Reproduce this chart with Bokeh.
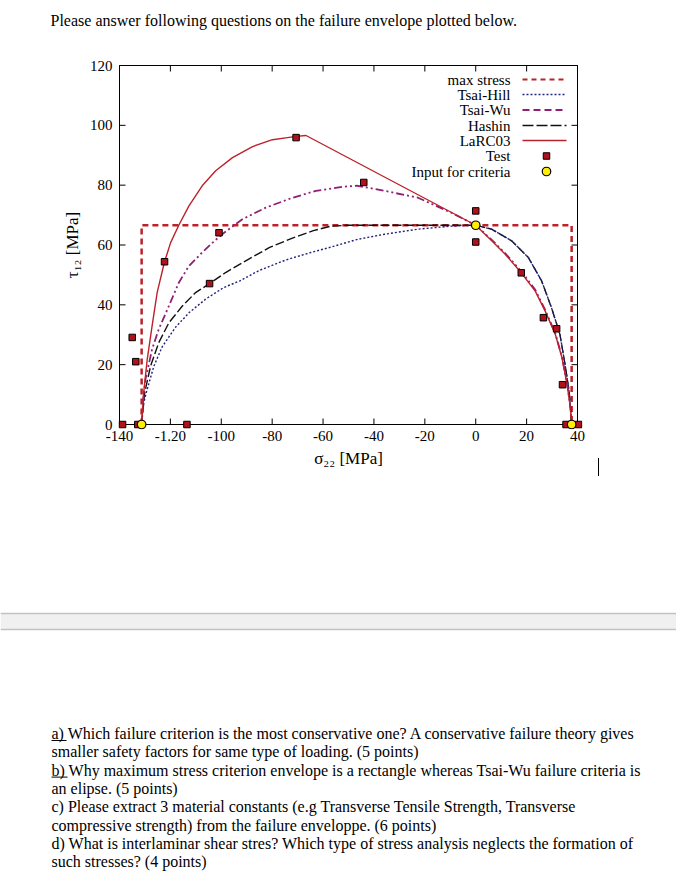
from bokeh.plotting import figure
from bokeh.models import Range1d, FixedTicker, Div
from bokeh.layouts import column, row
from bokeh.embed import file_html
from bokeh.resources import INLINE
from bokeh.core.properties import value

SERIF = "Liberation Serif"

# ---------------- data ----------------
x_ticks = [-140, -120, -100, -80, -60, -40, -20, 0, 20, 40]
x_tick_labels = ["-140", "-1.20", "-100", "-80", "-60", "-40", "-20", "0", "20", "40"]
y_ticks = [0, 20, 40, 60, 80, 100, 120]

max_stress_x = [-131.3, -131.3, 37.7, 37.7]
max_stress_y = [0.0, 66.6, 66.6, 0.0]

tsai_hill_x = [-131.3, -130.8, -129.5, -126.5, -123.2, -118.0, -112.5, -106.0, -99.0, -92.7,
               -85.1, -74.6, -64.8, -56.9, -46.4, -35.8, -22.7, -9.6, 0.0, 6.2, 14.1, 20.7,
               25.9, 29.8, 33.1, 35.1, 36.7, 37.4, 37.7]
tsai_hill_y = [0.0, 6.0, 10.6, 19.5, 26.0, 32.5, 37.5, 42.0, 45.8, 48.0,
               51.5, 55.0, 57.5, 59.3, 61.9, 63.6, 65.3, 66.3, 66.6, 65.3, 61.4, 55.8,
               48.0, 39.0, 30.1, 20.1, 11.1, 4.0, 0.0]

hashin_x = [-131.3, -130.1, -127.8, -124.6, -120.6, -115.3, -110.1, -104.6, -98.3, -90.4,
            -81.0, -72.3, -63.8, -56.9, -50.0, 0.0, 6.2, 14.1, 20.7, 25.9, 29.8, 33.1,
            35.1, 36.7, 37.4, 37.7]
hashin_y = [0.0, 10.6, 19.5, 27.3, 34.0, 39.6, 44.1, 47.1, 50.8, 54.7,
            59.2, 62.2, 64.8, 66.3, 66.6, 66.6, 65.3, 61.4, 55.8, 48.0, 39.0, 30.1,
            20.1, 11.1, 4.0, 0.0]

tsai_wu_x = [-131.3, -130.6, -129.8, -127.2, -124.6, -120.6, -116.7, -112.7, -107.5, -102.5,
             -98.9, -91.7, -82.5, -72.0, -62.8, -52.0, -46.4, -35.8, -22.7, -9.6, 0.0,
             6.2, 11.6, 17.9, 23.4, 27.3, 31.3, 33.9, 35.9, 37.2, 37.7]
tsai_wu_y = [0.0, 9.0, 15.1, 25.1, 31.8, 39.6, 47.4, 53.0, 57.5, 61.5,
             64.1, 68.6, 72.5, 75.8, 78.1, 79.5, 79.8, 78.1, 75.8, 70.8, 66.6,
             61.8, 57.2, 51.2, 45.0, 38.3, 30.4, 22.6, 13.7, 5.8, 0.0]

larc03_x = [-131.3, -130.5, -129.1, -127.2, -125.2, -122.3, -119.9, -116.7, -112.7, -107.5,
            -102.2, -95.6, -87.7, -79.9, -74.0, -70.6, -66.7, 0.0, 6.2, 11.6, 17.9, 23.4,
            27.3, 31.3, 33.9, 35.9, 37.2, 37.7]
larc03_y = [0.0, 10.6, 21.8, 32.9, 44.1, 54.4, 60.8, 66.6, 73.1, 79.8,
            84.8, 89.2, 92.9, 95.2, 95.9, 96.3, 96.6, 66.6, 61.5, 56.9, 50.7, 44.6,
            37.9, 30.1, 22.3, 13.4, 5.6, 0.0]

test_x = [-138.8, -132.8, -113.5, -135.0, -133.6, -122.3, -104.6, -100.9, -70.6, -44.0,
          0.0, 0.0, 17.9, 26.6, 31.8, 34.1, 35.5, 40.4]
test_y = [0.0, 0.0, 0.0, 29.1, 21.0, 54.4, 47.1, 64.1, 95.9, 80.9,
          71.4, 61.0, 50.7, 35.7, 32.0, 13.3, 0.0, 0.0]

input_x = [-131.3, 0.0, 37.7]
input_y = [0.0, 66.6, 0.0]

legend_labels = ["max stress", "Tsai-Hill", "Tsai-Wu", "Hashin", "LaRC03", "Test", "Input for criteria"]

title_text = "Please answer following questions on the failure envelope plotted below."
question_lines = [
    "a) Which failure criterion is  the most conservative one? A conservative failure theory gives",
    "smaller safety factors for same type of loading. (5 points)",
    "b) Why maximum stress criterion envelope is a rectangle whereas Tsai-Wu failure criteria is",
    "an elipse. (5 points)",
    "c) Please extract 3 material constants (e.g Transverse Tensile Strength, Transverse",
    "compressive strength) from the failure enveloppe. (6 points)",
    "d) What is interlaminar shear stres? Which type of stress analysis neglects the formation of",
    "such stresses? (4 points)",
]

# ---------------- styles ----------------
RED = "#bb2229"
NAVY = "#23237d"
PURPLE = "#8e1f73"
BLACK = "#111111"
SQ_FILL = "#b0121c"
YELLOW = "#ffee00"


def blank_fig(w, h):
    f = figure(width=w, height=h, x_range=Range1d(0, w), y_range=Range1d(h, 0),
               output_backend="svg", toolbar_location=None,
               x_axis_location=None, y_axis_location=None, min_border=0)
    f.grid.visible = False
    f.outline_line_color = None
    f.background_fill_color = "white"
    f.border_fill_color = "white"
    return f


# ---------------- header (page y 0..40) ----------------
head = blank_fig(676, 40)
head.text(x=[50], y=[20], text=[title_text], text_font=value(SERIF), text_font_size="16px",
          text_baseline="middle", text_align="left", text_color="black")

# ---------------- chart (page y 40..500, x 0..598) ----------------
BL, BR, BT, BB = 119, 577, 65, 424   # axis box in page pixels
PAD = 5                              # frame extends a little beyond the box so edge markers show whole
CH_TOP, CH_W, CH_H = 40, 598, 460
XU = 180.0 / (BR - BL)               # data units per pixel
YU = 120.0 / (BB - BT)


def dx(px):
    return -140 + (px - BL) * XU


def dy(py):
    return (BB - py) * YU


p = figure(width=CH_W, height=CH_H,
           x_range=Range1d(-140 - PAD * XU, 40 + PAD * XU),
           y_range=Range1d(0 - PAD * YU, 120 + PAD * YU),
           output_backend="svg", toolbar_location=None,
           min_border_left=BL - PAD, min_border_right=CH_W - (BR + PAD),
           min_border_top=(BT - PAD) - CH_TOP, min_border_bottom=(CH_TOP + CH_H) - (BB + PAD))
p.grid.visible = False
p.outline_line_color = None
p.background_fill_color = "white"
p.border_fill_color = "white"

for ax in p.axis:
    ax.axis_line_color = None
    ax.major_tick_line_color = None
    ax.major_tick_in = 0
    ax.major_tick_out = 0
    ax.minor_tick_line_color = None
    ax.major_label_text_font = SERIF
    ax.major_label_text_font_size = "15px"
    ax.major_label_text_color = "black"
    ax.axis_label_text_font = SERIF
    ax.axis_label_text_font_style = "normal"
    ax.axis_label_text_font_size = "17px"
    ax.axis_label_text_color = "black"

xa = p.xaxis[0]
xa.ticker = FixedTicker(ticks=x_ticks)
xa.major_label_overrides = {t: l for t, l in zip(x_ticks, x_tick_labels)}
xa.major_label_standoff = 1
xa.axis_label = "σ₂₂ [MPa]"
xa.axis_label_standoff = 5

ya = p.yaxis[0]
ya.ticker = FixedTicker(ticks=y_ticks)
ya.major_label_overrides = {t: str(t) for t in y_ticks}
ya.major_label_standoff = 2
ya.axis_label = "τ₁₂ [MPa]"
ya.axis_label_standoff = 5

# the box around the plot, with inward ticks on all four sides
p.segment(x0=[-140, -140, -140, 40], y0=[0, 120, 0, 0], x1=[40, 40, -140, 40], y1=[0, 120, 120, 120],
          line_color="black", line_width=1)
tick_h = 6 * YU
tick_w = 6 * XU
p.segment(x0=x_ticks * 2, y0=[0] * len(x_ticks) + [120] * len(x_ticks),
          x1=x_ticks * 2, y1=[tick_h] * len(x_ticks) + [120 - tick_h] * len(x_ticks),
          line_color="black", line_width=1)
p.segment(x0=[-140] * len(y_ticks) + [40] * len(y_ticks), y0=y_ticks * 2,
          x1=[-140 + tick_w] * len(y_ticks) + [40 - tick_w] * len(y_ticks), y1=y_ticks * 2,
          line_color="black", line_width=1)

# curves
p.line(max_stress_x, max_stress_y, line_color=RED, line_width=2.5, line_dash="6 4")
p.line(hashin_x, hashin_y, line_color=BLACK, line_width=1.4, line_dash="9 3")
p.line(tsai_hill_x, tsai_hill_y, line_color=NAVY, line_width=1.4, line_dash="2 2")
p.line(tsai_wu_x, tsai_wu_y, line_color=PURPLE, line_width=1.8, line_dash="8 3 2 3 2 3")
p.line(larc03_x, larc03_y, line_color=RED, line_width=1.4)

p.scatter(test_x, test_y, marker="square", size=6.5, fill_color=SQ_FILL, line_color="black", line_width=1)
p.scatter(input_x, input_y, marker="circle", size=8.5, fill_color=YELLOW, line_color="black", line_width=1.2)

# legend (inside the box, text on the left, sample on the right)
rows_py = [79, 94, 109.5, 125, 140, 155.5, 171]
p.text(x=[dx(510)] * len(legend_labels), y=[dy(v) for v in rows_py], text=legend_labels,
       text_font=value(SERIF), text_font_size="15px", text_align="right",
       text_baseline="middle", text_color="black")
sx0, sx1 = dx(522), dx(566)
styles = [(RED, 2.0, "5 4"), (NAVY, 1.5, "2 2"), (PURPLE, 1.8, "7 4"), (BLACK, 1.6, "11 3"), (RED, 1.6, "solid")]
for (c, w, d), v in zip(styles, rows_py[:5]):
    p.segment(x0=[sx0], y0=[dy(v)], x1=[sx1], y1=[dy(v)], line_color=c, line_width=w, line_dash=d)
p.scatter([dx(546)], [dy(rows_py[5])], marker="square", size=6.5, fill_color=SQ_FILL, line_color="black", line_width=1)
p.scatter([dx(546)], [dy(rows_py[6])], marker="circle", size=8.5, fill_color=YELLOW, line_color="black", line_width=1.2)

# strip right of the chart holding the small text-cursor mark
side = Div(text=('<div style="position:relative;width:%dpx;height:%dpx;background:#fff;">'
                 '<div style="position:absolute;left:0px;top:%dpx;width:1px;height:18px;background:#000;"></div>'
                 '</div>') % (676 - CH_W, CH_H, 458 - CH_TOP),
           width=676 - CH_W, height=CH_H, margin=0)

# ---------------- footer (page y 500..880) ----------------
foot = blank_fig(676, 380)
foot.quad(left=[0], right=[676], top=[113], bottom=[129], fill_color="#f0f0f0", line_color=None)
foot.segment(x0=[0, 0], y0=[113, 129], x1=[676, 676], y1=[113, 129], line_color="#c2c2c2", line_width=1.5)
line_y = [233 + 18.3 * i for i in range(len(question_lines))]
foot.text(x=[51] * len(question_lines), y=line_y, text=question_lines, text_font=value(SERIF),
          text_font_size="16px", text_baseline="middle", text_align="left", text_color="black")
foot.segment(x0=[51, 51], y0=[line_y[0] + 7, line_y[2] + 7], x1=[66, 67], y1=[line_y[0] + 7, line_y[2] + 7],
             line_color="black", line_width=1)

layout = column(head, row(p, side, spacing=0), foot, spacing=0)
open("out.html", "w").write(file_html(layout, INLINE))
